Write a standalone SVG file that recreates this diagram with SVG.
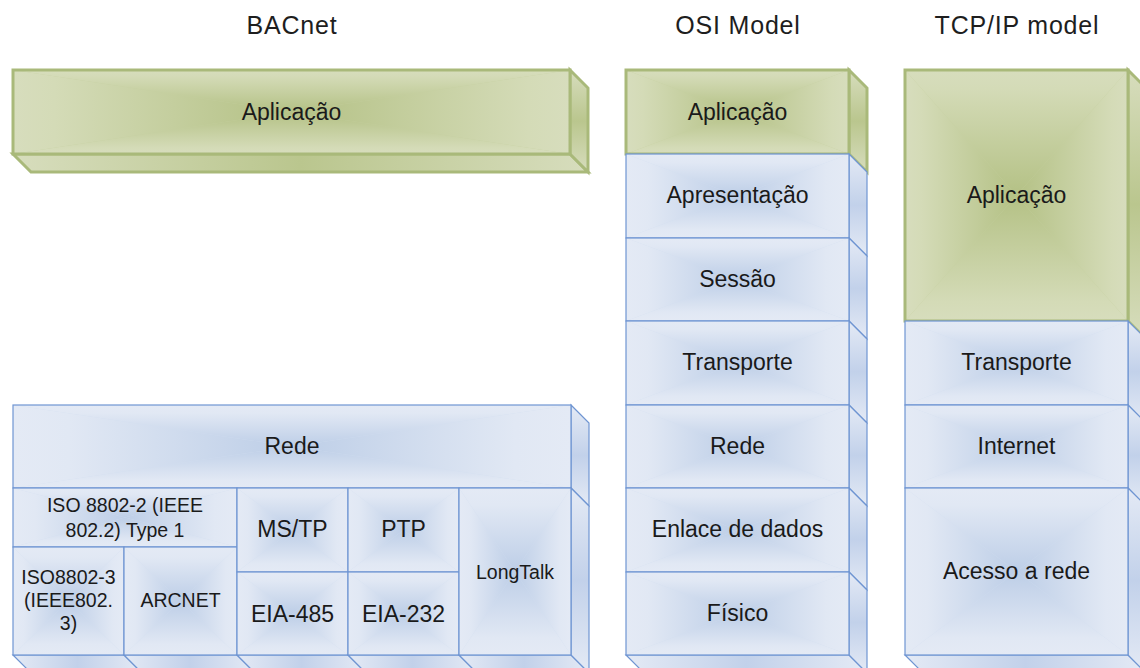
<svg xmlns="http://www.w3.org/2000/svg" width="1140" height="668" viewBox="0 0 1140 668">
<defs>
<linearGradient id="gT" x1="0" y1="0" x2="0" y2="1"><stop offset="0" stop-color="#d7ddbd"/><stop offset="0.15" stop-color="#d4dbb7"/><stop offset="1" stop-color="#b4c185"/></linearGradient>
<linearGradient id="gB" x1="0" y1="1" x2="0" y2="0"><stop offset="0" stop-color="#d7ddbd"/><stop offset="0.15" stop-color="#d4dbb7"/><stop offset="1" stop-color="#b4c185"/></linearGradient>
<linearGradient id="gL" x1="0" y1="0" x2="1" y2="0"><stop offset="0" stop-color="#d7ddbd"/><stop offset="0.15" stop-color="#d4dbb7"/><stop offset="1" stop-color="#b4c185"/></linearGradient>
<linearGradient id="gR" x1="1" y1="0" x2="0" y2="0"><stop offset="0" stop-color="#d7ddbd"/><stop offset="0.15" stop-color="#d4dbb7"/><stop offset="1" stop-color="#b4c185"/></linearGradient>
<linearGradient id="bT" x1="0" y1="0" x2="0" y2="1"><stop offset="0" stop-color="#e4eaf5"/><stop offset="0.2" stop-color="#e1e8f4"/><stop offset="1" stop-color="#bdcee7"/></linearGradient>
<linearGradient id="bB" x1="0" y1="1" x2="0" y2="0"><stop offset="0" stop-color="#e4eaf5"/><stop offset="0.2" stop-color="#e1e8f4"/><stop offset="1" stop-color="#bdcee7"/></linearGradient>
<linearGradient id="bL" x1="0" y1="0" x2="1" y2="0"><stop offset="0" stop-color="#e4eaf5"/><stop offset="0.2" stop-color="#e1e8f4"/><stop offset="1" stop-color="#bdcee7"/></linearGradient>
<linearGradient id="bR" x1="1" y1="0" x2="0" y2="0"><stop offset="0" stop-color="#e4eaf5"/><stop offset="0.2" stop-color="#e1e8f4"/><stop offset="1" stop-color="#bdcee7"/></linearGradient>
<linearGradient id="gSide" x1="0" y1="0" x2="0" y2="1"><stop offset="0" stop-color="#d7ddbd"/><stop offset="0.5" stop-color="#bac68e"/><stop offset="1" stop-color="#d7ddbd"/></linearGradient>
<linearGradient id="gBot" x1="0" y1="0" x2="1" y2="0"><stop offset="0" stop-color="#d7ddbd"/><stop offset="0.5" stop-color="#bac68e"/><stop offset="1" stop-color="#d7ddbd"/></linearGradient>
<linearGradient id="bSide" x1="0" y1="0" x2="0" y2="1"><stop offset="0" stop-color="#e4eaf5"/><stop offset="0.5" stop-color="#c2d1ea"/><stop offset="1" stop-color="#e4eaf5"/></linearGradient>
<linearGradient id="bBot" x1="0" y1="0" x2="1" y2="0"><stop offset="0" stop-color="#e4eaf5"/><stop offset="0.5" stop-color="#c2d1ea"/><stop offset="1" stop-color="#e4eaf5"/></linearGradient>
</defs>
<style>
.gt{fill:url(#gT)} .gb{fill:url(#gB)} .gl{fill:url(#gL)} .gr{fill:url(#gR)}
.bt{fill:url(#bT)} .bb{fill:url(#bB)} .bl{fill:url(#bL)} .br{fill:url(#bR)}
.gbase{fill:#c5cfa0} .bbase{fill:#d2def0}
.gedge{fill:none;stroke:#a9b97a;stroke-width:3;stroke-linejoin:miter}
.bedge{fill:none;stroke:#6f95d2;stroke-width:1.2}
.gside{fill:url(#gSide);stroke:#a9b97a;stroke-width:3}
.gbot{fill:url(#gBot);stroke:#a9b97a;stroke-width:3}
.bside{fill:url(#bSide);stroke:#6f95d2;stroke-width:1.2}
.bbot{fill:url(#bBot);stroke:#6f95d2;stroke-width:1.2}
text{font-family:"Liberation Sans",Arial,sans-serif;fill:#1a1a1a;text-anchor:middle}
.title{font-size:25px;letter-spacing:0.8px;fill:#1e1e1e}
.lbl{font-size:23px}
.sm{font-size:19.5px}
</style>

<g id="titles">
<text class="title" x="292" y="34">BACnet</text>
<text class="title" x="738" y="34">OSI Model</text>
<text class="title" x="1017" y="34">TCP/IP model</text>
</g>

<!-- BACnet -->
<g id="bac-aplicacao">
<path class="gbot" d="M13 154 L570 154 L588 172 L31 172 Z"/>
<path class="gside" d="M570 70 L588 88 L588 172 L570 154 Z"/>
<rect class="gbase" x="13" y="70" width="557" height="84"/>
<path class="gt" d="M13 70 L570 70 L291.5 112 Z"/><path class="gb" d="M13 154 L570 154 L291.5 112 Z"/><path class="gl" d="M13 70 L13 154 L291.5 112 Z"/><path class="gr" d="M570 70 L570 154 L291.5 112 Z"/>
<rect class="gedge" x="13" y="70" width="557" height="84"/>
<text class="lbl" x="291.5" y="120">Aplicação</text>
</g>

<g id="bac-rede">
<path class="bside" d="M571 405 L589 423 L589 506 L571 488 Z"/>
<rect class="bbase" x="13" y="405" width="558" height="83"/>
<path class="bt" d="M13 405 L571 405 L292 446.5 Z"/><path class="bb" d="M13 488 L571 488 L292 446.5 Z"/><path class="bl" d="M13 405 L13 488 L292 446.5 Z"/><path class="br" d="M571 405 L571 488 L292 446.5 Z"/>
<rect class="bedge" x="13" y="405" width="558" height="83"/>
<text class="lbl" x="292" y="454">Rede</text>
</g>

<g id="bac-iso8802-2">
<rect class="bbase" x="13" y="488" width="224" height="59"/>
<path class="bt" d="M13 488 L237 488 L125 517.5 Z"/><path class="bb" d="M13 547 L237 547 L125 517.5 Z"/><path class="bl" d="M13 488 L13 547 L125 517.5 Z"/><path class="br" d="M237 488 L237 547 L125 517.5 Z"/>
<rect class="bedge" x="13" y="488" width="224" height="59"/>
<text class="sm" x="125" y="512">ISO 8802-2 (IEEE</text>
<text class="sm" x="125" y="537">802.2) Type 1</text>
</g>

<g id="bac-iso8802-3">
<path class="bbot" d="M13 655 L124 655 L142 673 L31 673 Z"/>
<rect class="bbase" x="13" y="547" width="111" height="108"/>
<path class="bt" d="M13 547 L124 547 L68.5 601 Z"/><path class="bb" d="M13 655 L124 655 L68.5 601 Z"/><path class="bl" d="M13 547 L13 655 L68.5 601 Z"/><path class="br" d="M124 547 L124 655 L68.5 601 Z"/>
<rect class="bedge" x="13" y="547" width="111" height="108"/>
<text class="sm" x="68.5" y="584">ISO8802-3</text>
<text class="sm" x="68.5" y="607">(IEEE802.</text>
<text class="sm" x="68.5" y="630">3)</text>
</g>

<g id="bac-arcnet">
<path class="bbot" d="M124 655 L237 655 L255 673 L142 673 Z"/>
<rect class="bbase" x="124" y="547" width="113" height="108"/>
<path class="bt" d="M124 547 L237 547 L180.5 601 Z"/><path class="bb" d="M124 655 L237 655 L180.5 601 Z"/><path class="bl" d="M124 547 L124 655 L180.5 601 Z"/><path class="br" d="M237 547 L237 655 L180.5 601 Z"/>
<rect class="bedge" x="124" y="547" width="113" height="108"/>
<text class="sm" x="180.5" y="607">ARCNET</text>
</g>

<g id="bac-mstp">
<rect class="bbase" x="237" y="488" width="111" height="84"/>
<path class="bt" d="M237 488 L348 488 L292.5 530 Z"/><path class="bb" d="M237 572 L348 572 L292.5 530 Z"/><path class="bl" d="M237 488 L237 572 L292.5 530 Z"/><path class="br" d="M348 488 L348 572 L292.5 530 Z"/>
<rect class="bedge" x="237" y="488" width="111" height="84"/>
<text class="lbl" x="292.5" y="537">MS/TP</text>
</g>

<g id="bac-ptp">
<rect class="bbase" x="348" y="488" width="111" height="84"/>
<path class="bt" d="M348 488 L459 488 L403.5 530 Z"/><path class="bb" d="M348 572 L459 572 L403.5 530 Z"/><path class="bl" d="M348 488 L348 572 L403.5 530 Z"/><path class="br" d="M459 488 L459 572 L403.5 530 Z"/>
<rect class="bedge" x="348" y="488" width="111" height="84"/>
<text class="lbl" x="403.5" y="537">PTP</text>
</g>

<g id="bac-eia485">
<path class="bbot" d="M237 655 L348 655 L366 673 L255 673 Z"/>
<rect class="bbase" x="237" y="572" width="111" height="83"/>
<path class="bt" d="M237 572 L348 572 L292.5 613.5 Z"/><path class="bb" d="M237 655 L348 655 L292.5 613.5 Z"/><path class="bl" d="M237 572 L237 655 L292.5 613.5 Z"/><path class="br" d="M348 572 L348 655 L292.5 613.5 Z"/>
<rect class="bedge" x="237" y="572" width="111" height="83"/>
<text class="lbl" x="292.5" y="622">EIA-485</text>
</g>

<g id="bac-eia232">
<path class="bbot" d="M348 655 L459 655 L477 673 L366 673 Z"/>
<rect class="bbase" x="348" y="572" width="111" height="83"/>
<path class="bt" d="M348 572 L459 572 L403.5 613.5 Z"/><path class="bb" d="M348 655 L459 655 L403.5 613.5 Z"/><path class="bl" d="M348 572 L348 655 L403.5 613.5 Z"/><path class="br" d="M459 572 L459 655 L403.5 613.5 Z"/>
<rect class="bedge" x="348" y="572" width="111" height="83"/>
<text class="lbl" x="403.5" y="622">EIA-232</text>
</g>

<g id="bac-longtalk">
<path class="bbot" d="M459 655 L571 655 L589 673 L477 673 Z"/>
<path class="bside" d="M571 488 L589 506 L589 673 L571 655 Z"/>
<rect class="bbase" x="459" y="488" width="112" height="167"/>
<path class="bt" d="M459 488 L571 488 L515 571.5 Z"/><path class="bb" d="M459 655 L571 655 L515 571.5 Z"/><path class="bl" d="M459 488 L459 655 L515 571.5 Z"/><path class="br" d="M571 488 L571 655 L515 571.5 Z"/>
<rect class="bedge" x="459" y="488" width="112" height="167"/>
<text class="sm" x="515" y="579">LongTalk</text>
</g>

<!-- OSI -->
<g id="osi-aplicacao">
<path class="gside" d="M849 70 L867 88 L867 172 L849 154 Z"/>
<rect class="gbase" x="626" y="70" width="223" height="84"/>
<path class="gt" d="M626 70 L849 70 L737.5 112 Z"/><path class="gb" d="M626 154 L849 154 L737.5 112 Z"/><path class="gl" d="M626 70 L626 154 L737.5 112 Z"/><path class="gr" d="M849 70 L849 154 L737.5 112 Z"/>
<rect class="gedge" x="626" y="70" width="223" height="84"/>
<text class="lbl" x="737.5" y="120">Aplicação</text>
</g>

<g id="osi-apresentacao">
<path class="bside" d="M849 154 L867 172 L867 256 L849 238 Z"/>
<rect class="bbase" x="626" y="154" width="223" height="84"/>
<path class="bt" d="M626 154 L849 154 L737.5 196 Z"/><path class="bb" d="M626 238 L849 238 L737.5 196 Z"/><path class="bl" d="M626 154 L626 238 L737.5 196 Z"/><path class="br" d="M849 154 L849 238 L737.5 196 Z"/>
<rect class="bedge" x="626" y="154" width="223" height="84"/>
<text class="lbl" x="737.5" y="203">Apresentação</text>
</g>

<g id="osi-sessao">
<path class="bside" d="M849 238 L867 256 L867 339 L849 321 Z"/>
<rect class="bbase" x="626" y="238" width="223" height="83"/>
<path class="bt" d="M626 238 L849 238 L737.5 279.5 Z"/><path class="bb" d="M626 321 L849 321 L737.5 279.5 Z"/><path class="bl" d="M626 238 L626 321 L737.5 279.5 Z"/><path class="br" d="M849 238 L849 321 L737.5 279.5 Z"/>
<rect class="bedge" x="626" y="238" width="223" height="83"/>
<text class="lbl" x="737.5" y="287">Sessão</text>
</g>

<g id="osi-transporte">
<path class="bside" d="M849 321 L867 339 L867 423 L849 405 Z"/>
<rect class="bbase" x="626" y="321" width="223" height="84"/>
<path class="bt" d="M626 321 L849 321 L737.5 363 Z"/><path class="bb" d="M626 405 L849 405 L737.5 363 Z"/><path class="bl" d="M626 321 L626 405 L737.5 363 Z"/><path class="br" d="M849 321 L849 405 L737.5 363 Z"/>
<rect class="bedge" x="626" y="321" width="223" height="84"/>
<text class="lbl" x="737.5" y="370">Transporte</text>
</g>

<g id="osi-rede">
<path class="bside" d="M849 405 L867 423 L867 506 L849 488 Z"/>
<rect class="bbase" x="626" y="405" width="223" height="83"/>
<path class="bt" d="M626 405 L849 405 L737.5 446.5 Z"/><path class="bb" d="M626 488 L849 488 L737.5 446.5 Z"/><path class="bl" d="M626 405 L626 488 L737.5 446.5 Z"/><path class="br" d="M849 405 L849 488 L737.5 446.5 Z"/>
<rect class="bedge" x="626" y="405" width="223" height="83"/>
<text class="lbl" x="737.5" y="454">Rede</text>
</g>

<g id="osi-enlace">
<path class="bside" d="M849 488 L867 506 L867 590 L849 572 Z"/>
<rect class="bbase" x="626" y="488" width="223" height="84"/>
<path class="bt" d="M626 488 L849 488 L737.5 530 Z"/><path class="bb" d="M626 572 L849 572 L737.5 530 Z"/><path class="bl" d="M626 488 L626 572 L737.5 530 Z"/><path class="br" d="M849 488 L849 572 L737.5 530 Z"/>
<rect class="bedge" x="626" y="488" width="223" height="84"/>
<text class="lbl" x="737.5" y="537">Enlace de dados</text>
</g>

<g id="osi-fisico">
<path class="bbot" d="M626 655 L849 655 L867 673 L644 673 Z"/>
<path class="bside" d="M849 572 L867 590 L867 673 L849 655 Z"/>
<rect class="bbase" x="626" y="572" width="223" height="83"/>
<path class="bt" d="M626 572 L849 572 L737.5 613.5 Z"/><path class="bb" d="M626 655 L849 655 L737.5 613.5 Z"/><path class="bl" d="M626 572 L626 655 L737.5 613.5 Z"/><path class="br" d="M849 572 L849 655 L737.5 613.5 Z"/>
<rect class="bedge" x="626" y="572" width="223" height="83"/>
<text class="lbl" x="737.5" y="621">Físico</text>
</g>

<!-- TCP/IP -->
<g id="tcp-aplicacao">
<path class="gside" d="M1128 70 L1146 88 L1146 339 L1128 321 Z"/>
<rect class="gbase" x="905" y="70" width="223" height="251"/>
<path class="gt" d="M905 70 L1128 70 L1016.5 195.5 Z"/><path class="gb" d="M905 321 L1128 321 L1016.5 195.5 Z"/><path class="gl" d="M905 70 L905 321 L1016.5 195.5 Z"/><path class="gr" d="M1128 70 L1128 321 L1016.5 195.5 Z"/>
<rect class="gedge" x="905" y="70" width="223" height="251"/>
<text class="lbl" x="1016.5" y="203">Aplicação</text>
</g>

<g id="tcp-transporte">
<path class="bside" d="M1128 321 L1146 339 L1146 423 L1128 405 Z"/>
<rect class="bbase" x="905" y="321" width="223" height="84"/>
<path class="bt" d="M905 321 L1128 321 L1016.5 363 Z"/><path class="bb" d="M905 405 L1128 405 L1016.5 363 Z"/><path class="bl" d="M905 321 L905 405 L1016.5 363 Z"/><path class="br" d="M1128 321 L1128 405 L1016.5 363 Z"/>
<rect class="bedge" x="905" y="321" width="223" height="84"/>
<text class="lbl" x="1016.5" y="370">Transporte</text>
</g>

<g id="tcp-internet">
<path class="bside" d="M1128 405 L1146 423 L1146 506 L1128 488 Z"/>
<rect class="bbase" x="905" y="405" width="223" height="83"/>
<path class="bt" d="M905 405 L1128 405 L1016.5 446.5 Z"/><path class="bb" d="M905 488 L1128 488 L1016.5 446.5 Z"/><path class="bl" d="M905 405 L905 488 L1016.5 446.5 Z"/><path class="br" d="M1128 405 L1128 488 L1016.5 446.5 Z"/>
<rect class="bedge" x="905" y="405" width="223" height="83"/>
<text class="lbl" x="1016.5" y="454">Internet</text>
</g>

<g id="tcp-acesso">
<path class="bbot" d="M905 655 L1128 655 L1146 673 L923 673 Z"/>
<path class="bside" d="M1128 488 L1146 506 L1146 673 L1128 655 Z"/>
<rect class="bbase" x="905" y="488" width="223" height="167"/>
<path class="bt" d="M905 488 L1128 488 L1016.5 571.5 Z"/><path class="bb" d="M905 655 L1128 655 L1016.5 571.5 Z"/><path class="bl" d="M905 488 L905 655 L1016.5 571.5 Z"/><path class="br" d="M1128 488 L1128 655 L1016.5 571.5 Z"/>
<rect class="bedge" x="905" y="488" width="223" height="167"/>
<text class="lbl" x="1016.5" y="579">Acesso a rede</text>
</g>

<g id="connectors"></g>
</svg>
